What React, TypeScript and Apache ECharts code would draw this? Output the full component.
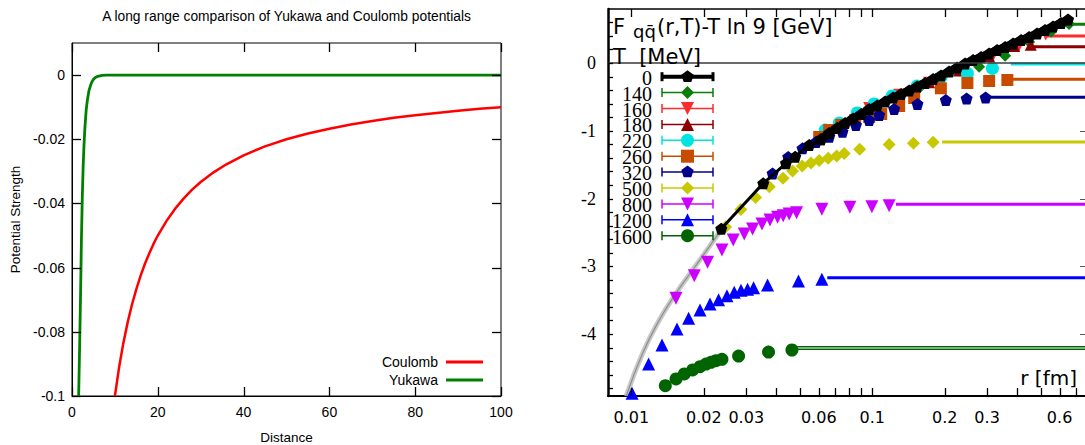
import React, { useEffect, useRef } from "react";
import * as echarts from "echarts";

const W = 1085;
const H = 445;

// ---------------- Left panel data ----------------
const leftTitle = "A long range comparison of Yukawa and Coulomb potentials";
const leftXName = "Distance";
const leftYName = "Potential Strength";
const distanceMin = 0;
const distanceMax = 100;
const distanceTicks = [0, 20, 40, 60, 80, 100];
const strengthMin = -0.1;
const strengthMax = 0.01;
const strengthTicks = [-0.1, -0.08, -0.06, -0.04, -0.02, 0];

const coulombDistance = [10, 11, 12, 13, 14, 15, 16, 17, 18, 19, 20, 22, 24, 26, 28, 30, 33, 36, 40, 45, 50, 55, 60, 65, 70, 75, 80, 85, 90, 95, 100];
const coulombStrength = [-0.1, -0.0909, -0.0833, -0.0769, -0.0714, -0.0667, -0.0625, -0.0588, -0.0556, -0.0526, -0.05, -0.0455, -0.0417, -0.0385, -0.0357, -0.0333, -0.0303, -0.0278, -0.025, -0.0222, -0.02, -0.0182, -0.0167, -0.0154, -0.0143, -0.0133, -0.0125, -0.0118, -0.0111, -0.0105, -0.01];
const yukawaDistance = [1.55, 1.8, 2, 2.2, 2.4, 2.6, 2.8, 3, 3.3, 3.6, 4, 4.5, 5, 5.5, 6, 7, 8, 100];
const yukawaStrength = [-0.1, -0.083, -0.068, -0.051, -0.038, -0.0285, -0.0217, -0.0166, -0.011, -0.0076, -0.0046, -0.0025, -0.0013, -0.0007, -0.0004, -0.0001, 0, 0];

// ---------------- Right panel data ----------------
const rMin = 0.008;
const rMax = 0.765;
const fMin = -4.915;
const fMax = 0.797;
const rTickValues = [0.01, 0.02, 0.03, 0.04, 0.05, 0.06, 0.07, 0.08, 0.09, 0.1, 0.2, 0.3, 0.4, 0.5, 0.6, 0.7];
const rLabelValues = [0.01, 0.02, 0.03, 0.06, 0.1, 0.2, 0.3, 0.6];
const fLabelValues = [-4, -3, -2, -1, 0];
const fMinorTickValues = [-4.8, -4.6, -4.4, -4.2, -4, -3.8, -3.6, -3.4, -3.2, -3, -2.8, -2.6, -2.4, -2.2, -2, -1.8, -1.6, -1.4, -1.2, -1, -0.8, -0.6, -0.4, -0.2, 0, 0.2, 0.4, 0.6];

const temperatures = ["0", "140", "160", "180", "220", "260", "320", "500", "800", "1200", "1600"];
const tColors = ["#000000", "#0a7d0a", "#ff2a2a", "#8b0000", "#00e3e3", "#c84b00", "#00008b", "#c8c800", "#cc00ff", "#0000ff", "#006400"];
const tSymbols = ["pentagon", "diamond", "triangleDown", "triangle", "circle", "square", "pentagon", "diamond", "triangleDown", "triangle", "circle"];
const tSymbolSizes = [12, 12, 12, 12, 13, 12, 12, 13, 13, 13, 13];

const r_T0 = [0.02363, 0.0353, 0.04385, 0.04792, 0.05478, 0.06126, 0.06631, 0.07157, 0.07727, 0.08342, 0.09003, 0.09718, 0.1049, 0.1132, 0.1222, 0.1319, 0.1424, 0.1537, 0.1659, 0.1791, 0.1933, 0.2087, 0.2253, 0.2431, 0.2625, 0.2834, 0.3059, 0.3302, 0.3564, 0.3847, 0.4153, 0.4483, 0.4838, 0.5222, 0.5637, 0.6084, 0.6506];
const f_T0 = [-2.447, -1.776, -1.48, -1.383, -1.21, -1.126, -1.033, -0.959, -0.886, -0.819, -0.753, -0.679, -0.627, -0.568, -0.509, -0.458, -0.406, -0.347, -0.295, -0.236, -0.185, -0.125, -0.066, -0.007, 0.044, 0.089, 0.14, 0.192, 0.236, 0.288, 0.339, 0.384, 0.435, 0.487, 0.539, 0.59, 0.642];
const t0DenseFrom = 5; // index where the T=0 points merge into a solid band
const r_T140 = [0.1294, 0.1567, 0.1838, 0.2253, 0.278, 0.3564, 0.4483, 0.5529, 0.6568];
const f_T140 = [-0.505, -0.37, -0.236, -0.108, -0.054, 0.108, 0.31, 0.46, 0.575];
const r_T160 = [0.09718, 0.1294, 0.1724, 0.2296, 0.3108, 0.4074, 0.5257];
const f_T160 = [-0.665, -0.47, -0.29, -0.115, 0.044, 0.26, 0.42];
const r_T180 = [0.09718, 0.1294, 0.1724, 0.2296, 0.3059, 0.3884, 0.4555];
const f_T180 = [-0.66, -0.465, -0.285, -0.11, 0.1, 0.25, 0.27];
const r_T220 = [0.06383, 0.07297, 0.08664, 0.1019, 0.1211, 0.1537, 0.1933, 0.2485, 0.3156];
const f_T220 = [-0.989, -0.886, -0.738, -0.605, -0.487, -0.339, -0.207, -0.155, -0.081];
const r_T260 = [0.06026, 0.0663, 0.07436, 0.08501, 0.09718, 0.109, 0.1294, 0.1494, 0.1928, 0.2485, 0.3059, 0.3642];
const f_T260 = [-1.092, -0.989, -0.915, -0.841, -0.797, -0.753, -0.635, -0.517, -0.373, -0.295, -0.266, -0.251];
const r_T320 = [0.03858, 0.04481, 0.05138, 0.0584, 0.0663, 0.0753, 0.08557, 0.09718, 0.1069, 0.1234, 0.1542, 0.2022, 0.2467, 0.2958];
const f_T320 = [-1.631, -1.387, -1.259, -1.166, -1.088, -1.014, -0.915, -0.841, -0.768, -0.679, -0.605, -0.546, -0.524, -0.509];
const r_T500 = [0.02462, 0.02848, 0.0328, 0.03737, 0.04262, 0.0467, 0.05123, 0.05568, 0.06026, 0.06567, 0.07122, 0.07652, 0.08873, 0.1176, 0.1484, 0.1791];
const f_T500 = [-2.421, -2.162, -1.985, -1.826, -1.702, -1.594, -1.52, -1.476, -1.439, -1.407, -1.373, -1.336, -1.274, -1.203, -1.185, -1.17];
const r_T800 = [0.01533, 0.01826, 0.02073, 0.02378, 0.0265, 0.02943, 0.03187, 0.03487, 0.03764, 0.04047, 0.04272, 0.04524, 0.04852, 0.06183, 0.08082, 0.09972, 0.1176];
const f_T800 = [-3.473, -3.139, -2.942, -2.76, -2.613, -2.524, -2.45, -2.376, -2.317, -2.278, -2.254, -2.229, -2.21, -2.16, -2.13, -2.121, -2.106];
const r_T1200 = [0.01007, 0.0118, 0.01341, 0.01547, 0.01729, 0.01928, 0.02121, 0.02303, 0.02495, 0.02675, 0.02853, 0.03038, 0.03218, 0.03678, 0.04945, 0.06183];
const f_T1200 = [-4.875, -4.443, -4.162, -3.926, -3.768, -3.646, -3.557, -3.494, -3.435, -3.385, -3.355, -3.34, -3.317, -3.277, -3.218, -3.193];
const r_T1600 = [0.01384, 0.01533, 0.01659, 0.01797, 0.01928, 0.02042, 0.02141, 0.02246, 0.02378, 0.02788, 0.03712, 0.04643];
const f_T1600 = [-4.763, -4.664, -4.59, -4.531, -4.483, -4.443, -4.418, -4.394, -4.373, -4.325, -4.266, -4.236];

// asymptotic (large-r) values, index matches temperatures
const plateauStart = [null, 0.676, 0.5257, 0.4555, 0.3763, 0.3821, 0.3059, 0.1952, 0.1254, 0.0651, 0.0488];
const plateauValue = [null, 0.571, 0.399, 0.241, -0.015, -0.241, -0.506, -1.166, -2.085, -3.169, -4.188];
const plateau1600Second = -4.226;

// perturbative short-distance curve (gray band)
const pertR = [0.00953, 0.01114, 0.01307, 0.01533, 0.01797, 0.02107, 0.02356];
const pertF = [-4.915, -4.285, -3.793, -3.399, -3.055, -2.711, -2.465];

const rByT = [r_T0, r_T140, r_T160, r_T180, r_T220, r_T260, r_T320, r_T500, r_T800, r_T1200, r_T1600];
const fByT = [f_T0, f_T140, f_T160, f_T180, f_T220, f_T260, f_T320, f_T500, f_T800, f_T1200, f_T1600];

// ---------------- layout ----------------
const LEFT_GRID = { left: 72, top: 43, width: 429, height: 353 };
const RIGHT_GRID = { left: 608, top: 9, width: 477, height: 387 };

// ---------------- helpers ----------------
const SANS = "Liberation Sans";
const DEJAVU = "DejaVu Sans";
const SERIF = "Liberation Serif";

const zip = (xs: number[], ys: number[]) => xs.map((x, i) => [x, ys[i]]);

const PENTAGON = "path://M0,-10L9.51,-3.09L5.88,8.09L-5.88,8.09L-9.51,-3.09Z";
const symbolOf = (k: string) =>
  k === "pentagon" ? PENTAGON : k === "square" ? "rect" : k === "triangleDown" ? "triangle" : k;

function markerEl(kind: string, cx: number, cy: number, s: number, color: string) {
  const h = s / 2;
  const st = { fill: color };
  if (kind === "circle") return { type: "circle", shape: { cx, cy, r: h }, style: st, z: 60 };
  if (kind === "square") return { type: "rect", shape: { x: cx - h, y: cy - h, width: s, height: s }, style: st, z: 60 };
  let pts: number[][] = [];
  if (kind === "diamond") pts = [[cx, cy - h], [cx + h, cy], [cx, cy + h], [cx - h, cy]];
  else if (kind === "triangle") pts = [[cx, cy - h], [cx + h, cy + h], [cx - h, cy + h]];
  else if (kind === "triangleDown") pts = [[cx, cy + h], [cx + h, cy - h], [cx - h, cy - h]];
  else {
    for (let k = 0; k < 5; k++) {
      const a = (-90 + k * 72) * Math.PI / 180;
      pts.push([cx + h * Math.cos(a), cy + h * Math.sin(a)]);
    }
  }
  return { type: "polygon", shape: { points: pts }, style: st, z: 60 };
}

function txt(text: string, x: number, y: number, size: number, family: string, align = "left", rotation = 0) {
  return {
    type: "text",
    z: 60,
    x, y, rotation,
    style: {
      text, x: 0, y: 0, fill: "#000",
      font: `${size}px "${family}"`, fontSize: size, fontFamily: family,
      align, textAlign: align, verticalAlign: "middle", textVerticalAlign: "middle",
    },
  };
}

// pixel mapping of the two grids (same linear / log10 mapping the axes use)
const leftPx = (x: number, y: number) => [
  LEFT_GRID.left + ((x - distanceMin) / (distanceMax - distanceMin)) * LEFT_GRID.width,
  LEFT_GRID.top + LEFT_GRID.height - ((y - strengthMin) / (strengthMax - strengthMin)) * LEFT_GRID.height,
];
const rightPx = (x: number, y: number) => [
  RIGHT_GRID.left + (Math.log(x / rMin) / Math.log(rMax / rMin)) * RIGHT_GRID.width,
  RIGHT_GRID.top + RIGHT_GRID.height - ((y - fMin) / (fMax - fMin)) * RIGHT_GRID.height,
];

function buildTicks(): any[] {
  const t: any[] = [];
  const line = (x1: number, y1: number, x2: number, y2: number, w = 1.3, c = "#000") =>
    t.push({ type: "line", z: 70, silent: true, shape: { x1, y1, x2, y2 }, style: { stroke: c, lineWidth: w } });
  const [xL, yBot] = leftPx(distanceMin, strengthMin);
  const [xR, yTop] = leftPx(distanceMax, strengthMax);
  distanceTicks.forEach((d) => {
    const x = Math.round(leftPx(d, strengthMin)[0]) + 0.5;
    line(x, yBot, x, yBot - 9);
    line(x, yTop, x, yTop + 9);
  });
  strengthTicks.forEach((s) => {
    const y = Math.round(leftPx(distanceMin, s)[1]) + 0.5;
    line(xL, y, xL + 9, y);
    line(xR, y, xR - 9, y);
  });
  const [rxL, rTop] = rightPx(rMin, fMax);
  const [rxR, rBot] = rightPx(rMax, fMin);
  line(rxL, rTop, rxR, rTop, 1.5);
  rTickValues.forEach((r) => {
    const x = Math.round(rightPx(r, fMax)[0]) + 0.5;
    line(x, rTop, x, rTop + 8);
    line(x, rBot, x, rBot - 8);
  });
  fMinorTickValues.forEach((f) => {
    const y = Math.round(rightPx(rMin, f)[1]) + 0.5;
    line(rxL, y, rxL + 5, y);
  });
  fLabelValues.forEach((f) => {
    const y = Math.round(rightPx(rMax, f)[1]) + 0.5;
    line(rxR - 5, y, rxR, y, 1, "#555");
  });
  return t;
}

function buildGraphic(): any[] {
  const g: any[] = [];
  g.push(txt(leftTitle, 286.5, 16, 13.8, SANS, "center"));
  g.push(txt(leftXName, 286.5, 437.5, 13.5, SANS, "center"));
  g.push(txt(leftYName, 15, 219.5, 13.5, SANS, "center", Math.PI / 2));
  g.push(txt("F", 613, 26.5, 21, DEJAVU));
  g.push(txt("qq\u0304", 633, 31, 18, DEJAVU));
  g.push(txt("(r,T)-T ln 9 [GeV]", 657, 26.5, 21, DEJAVU));
  g.push(txt("T  [MeV]", 613, 56.5, 21, DEJAVU));
  g.push(txt("r [fm]", 1077, 377.5, 20, DEJAVU, "right"));

  const legendTop = 76.7;
  const legendStep = 15.9;
  temperatures.forEach((t, i) => {
    const y = legendTop + i * legendStep;
    const c = tColors[i];
    const lw = i === 0 ? 4 : 1.5;
    g.push(txt(t, 652, y + 1, 20, SERIF, "right"));
    g.push({ type: "line", z: 59, shape: { x1: 662, y1: y, x2: 713, y2: y }, style: { stroke: c, lineWidth: lw } });
    g.push({ type: "line", z: 59, shape: { x1: 662, y1: y - 4.5, x2: 662, y2: y + 4.5 }, style: { stroke: c, lineWidth: i === 0 ? 3 : 1.5 } });
    g.push({ type: "line", z: 59, shape: { x1: 713, y1: y - 4.5, x2: 713, y2: y + 4.5 }, style: { stroke: c, lineWidth: i === 0 ? 3 : 1.5 } });
    g.push(markerEl(tSymbols[i], 687.5, y, 13, c));
  });
  return [...g, ...buildTicks()];
}

function buildOption() {
  const leftLabel = { color: "#000", fontFamily: SANS, fontSize: 14 };

  const strengthFmt = (v: number) => {
    const r = Math.round(v * 100) / 100;
    return r === 0 ? "0" : String(r);
  };

  const series: any[] = [
    {
      name: "Coulomb", type: "line", xAxisIndex: 0, yAxisIndex: 0,
      data: zip(coulombDistance, coulombStrength), symbol: "none", showSymbol: false, smooth: false,
      lineStyle: { color: "#ff0000", width: 2.5 }, itemStyle: { color: "#ff0000" },
    },
    {
      name: "Yukawa", type: "line", xAxisIndex: 0, yAxisIndex: 0,
      data: zip(yukawaDistance, yukawaStrength), symbol: "none", showSymbol: false, smooth: false,
      lineStyle: { color: "#008000", width: 2.8 }, itemStyle: { color: "#008000" },
    },
    // perturbative band (wide light + thin dark)
    {
      type: "line", xAxisIndex: 1, yAxisIndex: 1, data: zip(pertR, pertF), symbol: "none",
      smooth: true, silent: true, z: 1, lineStyle: { color: "#c8c8c8", width: 5 },
      markLine: {
        silent: true, symbol: "none", label: { show: false },
        lineStyle: { color: "#3a3a3a", width: 1.5, type: "solid" },
        data: [{ yAxis: 0 }],
      },
    },
    {
      type: "line", xAxisIndex: 1, yAxisIndex: 1, data: zip(pertR, pertF), symbol: "none",
      smooth: true, silent: true, z: 1, lineStyle: { color: "#8f8f8f", width: 1.2 },
    },
  ];

  // plateau lines
  for (let i = 1; i < temperatures.length; i++) {
    const s = plateauStart[i] as number;
    const v = plateauValue[i] as number;
    series.push({
      type: "line", xAxisIndex: 1, yAxisIndex: 1, symbol: "none", silent: true, z: 2,
      data: [[s, v], [rMax, v]],
      lineStyle: { color: tColors[i], width: i === 10 ? 1.6 : 3 },
    });
  }
  series.push({
    type: "line", xAxisIndex: 1, yAxisIndex: 1, symbol: "none", silent: true, z: 2,
    data: [[plateauStart[10] as number, plateau1600Second], [rMax, plateau1600Second]],
    lineStyle: { color: tColors[10], width: 1.6 },
  });

  // finite temperature points
  for (let i = 1; i < temperatures.length; i++) {
    series.push({
      name: "T" + temperatures[i], type: "scatter", xAxisIndex: 1, yAxisIndex: 1, z: 3,
      data: zip(rByT[i], fByT[i]),
      symbol: symbolOf(tSymbols[i]), symbolRotate: tSymbols[i] === "triangleDown" ? 180 : 0,
      symbolSize: tSymbolSizes[i], itemStyle: { color: tColors[i], opacity: 1 },
    });
  }
  // T = 0 : sparse part (thin line) and dense part (solid band)
  const t0 = zip(r_T0, f_T0);
  series.push({
    name: "T0", type: "line", xAxisIndex: 1, yAxisIndex: 1, z: 4,
    data: t0.slice(0, t0DenseFrom + 1), symbol: PENTAGON, symbolSize: tSymbolSizes[0], showSymbol: true,
    lineStyle: { color: "#000", width: 3 }, itemStyle: { color: "#000" },
  });
  series.push({
    name: "T0", type: "line", xAxisIndex: 1, yAxisIndex: 1, z: 4,
    data: t0.slice(t0DenseFrom), symbol: PENTAGON, symbolSize: 12, showSymbol: true,
    lineStyle: { color: "#000", width: 8, join: "round" }, itemStyle: { color: "#000" },
  });

  const logFmt = (v: number) => String(+(+v).toPrecision(2));

  return {
    animation: false,
    backgroundColor: "#ffffff",
    textStyle: { fontFamily: SANS },
    grid: [
      { ...LEFT_GRID, show: true, borderColor: "#000", borderWidth: 1, backgroundColor: "transparent" },
      { ...RIGHT_GRID },
    ],
    legend: {
      data: ["Coulomb", "Yukawa"], orient: "vertical", right: W - 488, top: 349,
      align: "right", icon: "rect", itemWidth: 37, itemHeight: 3, itemGap: 2,
      selectedMode: false,
      textStyle: { fontFamily: SANS, fontSize: 14, color: "#000", lineHeight: 16, padding: [0, 3, 0, 0] },
    },
    xAxis: [
      {
        gridIndex: 0, type: "value", position: "bottom", min: distanceMin, max: distanceMax,
        axisLine: { show: true, onZero: false, lineStyle: { color: "#000", width: 1 } },
        axisTick: { show: false },
        axisLabel: { ...leftLabel, margin: 9, customValues: distanceTicks },
        splitLine: { show: false },
      },
      {
        gridIndex: 1, type: "log", logBase: 10, position: "bottom", min: rMin, max: rMax,
        axisLine: { show: true, onZero: false, lineStyle: { color: "#000", width: 2 } },
        axisTick: { show: false },
        axisLabel: { show: true, customValues: rLabelValues, formatter: logFmt, margin: 13, color: "#000", fontFamily: DEJAVU, fontSize: 16 },
        splitLine: { show: false }, minorTick: { show: false }, minorSplitLine: { show: false },
      },
    ],
    yAxis: [
      {
        gridIndex: 0, type: "value", position: "left", min: strengthMin, max: strengthMax,
        axisLine: { show: true, onZero: false, lineStyle: { color: "#000", width: 1 } },
        axisTick: { show: false },
        axisLabel: { ...leftLabel, margin: 7, formatter: strengthFmt, customValues: strengthTicks },
        splitLine: { show: false },
      },
      {
        gridIndex: 1, type: "value", position: "left", min: fMin, max: fMax,
        axisLine: { show: true, onZero: false, lineStyle: { color: "#000", width: 2.5 } },
        axisTick: { show: false },
        axisLabel: { show: true, customValues: fLabelValues, margin: 12, color: "#000", fontFamily: SERIF, fontSize: 18 },
        splitLine: { show: false },
      },
    ],
    series,
    graphic: { elements: buildGraphic() },
  };
}

export default function App() {
  const ref = useRef<HTMLDivElement>(null);
  useEffect(() => {
    if (!ref.current) return;
    const chart = echarts.init(ref.current, null, { renderer: "svg" });
    chart.setOption(buildOption() as any);
    return () => chart.dispose();
  }, []);
  return (
    <div
      ref={ref}
      style={{ position: "absolute", left: 0, top: 0, width: W, height: H, background: "#fff" }}
    />
  );
}
